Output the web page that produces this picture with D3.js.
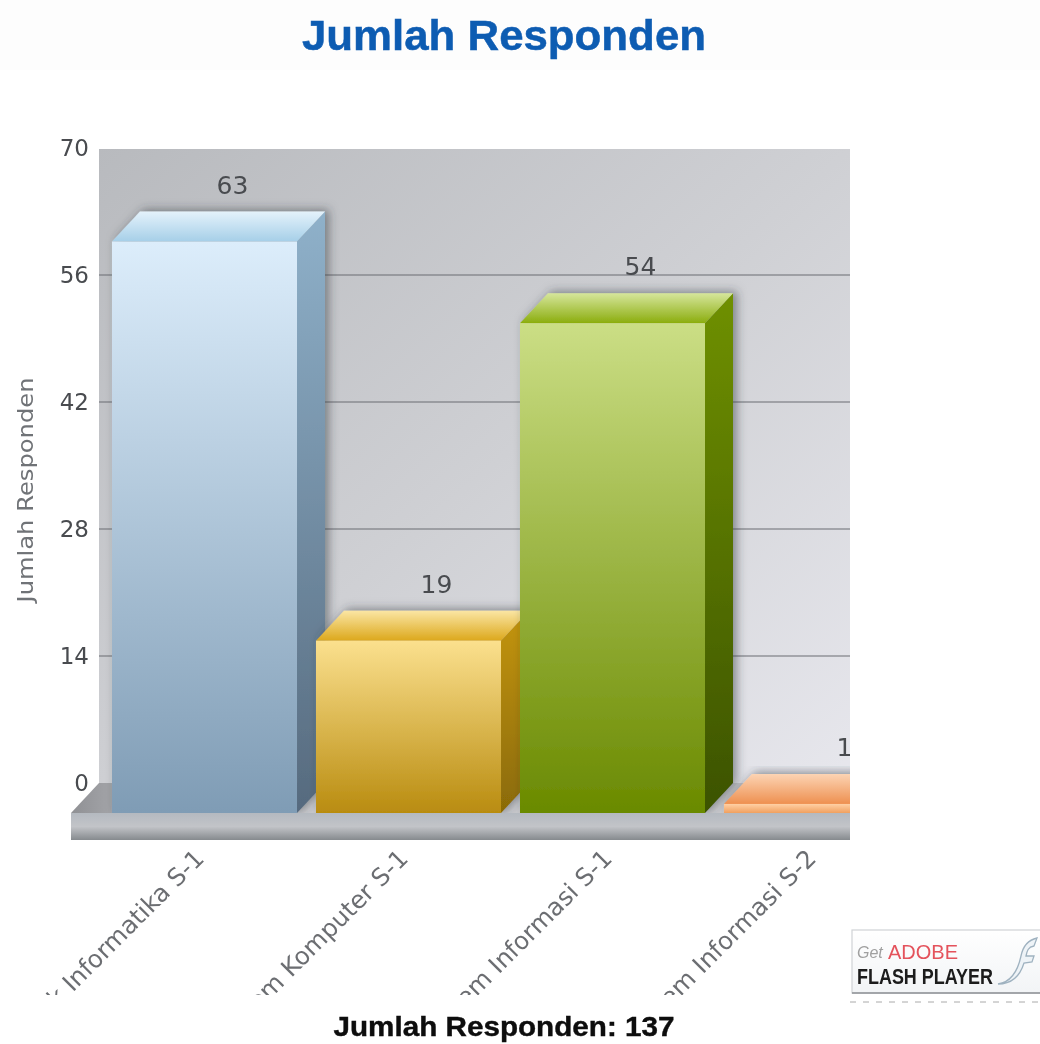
<!DOCTYPE html>
<html>
<head>
<meta charset="utf-8">
<script src="https://cdn.jsdelivr.net/npm/d3@7"></script>
<style>
  html, body { margin: 0; padding: 0; background: #fff; }
  svg { display: block; }
</style>
</head>
<body>
<div id="chart"></div>
<script>
const categories = ["Teknik Informatika S-1", "Sistem Komputer S-1", "Sistem Informasi S-1", "Sistem Informasi S-2"];
const responden = [63, 19, 54, 1];
const yTicks = [0, 14, 28, 42, 56, 70];
const chartTitle = "Jumlah Responden";
const footerText = "Jumlah Responden: 137";

const frontColors = [["#dcedfb", "#7f9cb5"], ["#fbe08e", "#b98c10"], ["#cbde85", "#6a8a00"], ["#ffd0a4", "#f0a060"]];
const sideColors = [["#8fb1ca", "#566a7e"], ["#c49510", "#8a6a06"], ["#6f9000", "#3c5300"], ["#f0a070", "#d88040"]];
const topColors = [["#a6cfe8", "#e4f2fb"], ["#dca81c", "#fbe6a4"], ["#8bad0e", "#d6e69c"], ["#ee9050", "#fcd4b4"]];

const width = 1040;
const height = 1044;
const wall = {left: 99, right: 850, top: 149};
const depthX = 28;   // shift of the back wall against the front plane
const depthY = 30;
const frontBase = 813;
const floorBottom = 840;

const svg = d3.select("#chart").append("svg")
  .attr("width", width)
  .attr("height", height)
  .attr("viewBox", [0, 0, width, height]);

const defs = svg.append("defs");

function linearGradient(id, stops, x2 = 0, y2 = 1) {
  const g = defs.append("linearGradient").attr("id", id)
    .attr("x1", 0).attr("y1", 0).attr("x2", x2).attr("y2", y2);
  stops.forEach((c, i) => g.append("stop")
    .attr("offset", i / (stops.length - 1))
    .attr("stop-color", c));
}

linearGradient("wallFill", ["#b8babe", "#cfd0d4", "#e8e8ee"], 1, 1);
linearGradient("floorFront", ["#b4b9c0", "#c2c4c8", "#868a8e"]);
linearGradient("floorTop", ["#8f9094", "#c8c9cd"], 0.15, 0);
linearGradient("badgeFill", ["#ffffff", "#f2f4f6"]);
categories.forEach((c, i) => {
  linearGradient(`front${i}`, frontColors[i]);
  linearGradient(`side${i}`, sideColors[i]);
  linearGradient(`top${i}`, topColors[i], 0, 0);
  defs.select(`#top${i}`).attr("y1", 1).attr("y2", 0);
});

defs.append("clipPath").attr("id", "plotClip").append("rect")
  .attr("x", 60).attr("y", wall.top).attr("width", wall.right - 60).attr("height", frontBase - wall.top);
defs.append("clipPath").attr("id", "labelClip").append("rect")
  .attr("x", 40).attr("y", 845).attr("width", 800).attr("height", 150);

defs.append("filter").attr("id", "barShadow")
  .attr("x", "-20%").attr("y", "-20%").attr("width", "140%").attr("height", "140%")
  .append("feDropShadow")
  .attr("dx", 4).attr("dy", -2).attr("stdDeviation", 5)
  .attr("flood-color", "#30343a").attr("flood-opacity", 0.5);

defs.append("filter").attr("id", "soften")
  .attr("filterUnits", "userSpaceOnUse")
  .attr("x", 0).attr("y", 0).attr("width", width).attr("height", height)
  .append("feGaussianBlur").attr("stdDeviation", 0.75);

const root = svg.append("g").attr("filter", "url(#soften)");

root.append("rect").attr("width", width).attr("height", height).attr("fill", "#fff");
root.append("rect").attr("width", width).attr("height", 70).attr("fill", "#fdfdfd");

// scales: y is on the front plane, the wall is the same thing moved back
const y = d3.scaleLinear().domain([0, 70]).range([frontBase, frontBase - 635]);
const x = d3.scaleBand().domain(categories).range([102.5, 918.5]).paddingInner(0.093).paddingOuter(0.0465);
const wallY = (v) => y(v) - depthY;

root.append("rect")
  .attr("x", wall.left).attr("y", wall.top)
  .attr("width", wall.right - wall.left).attr("height", frontBase - wall.top)
  .attr("fill", "url(#wallFill)");

root.append("g")
  .selectAll("line")
  .data(yTicks.filter((d) => d > 0 && d < 70))
  .join("line")
  .attr("x1", wall.left).attr("x2", wall.right)
  .attr("y1", wallY).attr("y2", wallY)
  .attr("stroke", "#6a6d72")
  .attr("stroke-width", 1.1);

// floor
root.append("path")
  .attr("d", `M${wall.left - depthX},${frontBase}L${wall.left},${frontBase - depthY}H${wall.right}V${frontBase}Z`)
  .attr("fill", "url(#floorTop)");
root.append("rect")
  .attr("x", wall.left - depthX).attr("y", frontBase)
  .attr("width", wall.right - wall.left + depthX).attr("height", floorBottom - frontBase)
  .attr("fill", "url(#floorFront)");

const rows = categories.map((name, i) => ({name, value: responden[i], i}));

const bars = root.append("g").attr("clip-path", "url(#plotClip)")
  .selectAll("g")
  .data(rows)
  .join("g")
  .attr("filter", "url(#barShadow)");

bars.append("path")
  .attr("fill", (d) => `url(#side${d.i})`)
  .attr("d", (d) => {
    const r = x(d.name) + x.bandwidth();
    return `M${r},${y(0)}V${y(d.value)}l${depthX},${-depthY}V${y(0) - depthY}Z`;
  });
bars.append("path")
  .attr("fill", (d) => `url(#top${d.i})`)
  .attr("d", (d) => `M${x(d.name)},${y(d.value)}l${depthX},${-depthY}h${x.bandwidth()}l${-depthX},${depthY}Z`);
bars.append("rect")
  .attr("fill", (d) => `url(#front${d.i})`)
  .attr("x", (d) => x(d.name))
  .attr("y", (d) => y(d.value))
  .attr("width", x.bandwidth())
  .attr("height", (d) => y(0) - y(d.value));

// value labels
defs.append("clipPath").attr("id", "valueClip").append("rect")
  .attr("x", 0).attr("y", 0).attr("width", wall.right).attr("height", height);
root.append("g").attr("clip-path", "url(#valueClip)")
  .selectAll("text")
  .data(rows)
  .join("text")
  .attr("x", (d) => x(d.name) + x.bandwidth() / 2 + depthX)
  .attr("y", (d) => y(d.value) - depthY - 27)
  .attr("dy", "0.36em")
  .attr("text-anchor", "middle")
  .attr("font-family", "DejaVu Sans")
  .attr("font-size", 25)
  .attr("fill", "#484b4f")
  .text((d) => d.value);

// y axis sits on the wall plane
const axisY = d3.scaleLinear().domain(y.domain()).range(y.range().map((v) => v - depthY));
root.append("g")
  .attr("transform", `translate(${wall.left},0)`)
  .call(d3.axisLeft(axisY).tickValues(yTicks).tickSize(0).tickPadding(10))
  .call((a) => a.select(".domain").remove())
  .call((a) => a.selectAll("text")
    .attr("font-family", "DejaVu Sans")
    .attr("font-size", 23)
    .attr("fill", "#484b4f"));

root.append("text")
  .attr("transform", "translate(25,490) rotate(-90)")
  .attr("text-anchor", "middle")
  .attr("dy", "0.36em")
  .attr("font-family", "DejaVu Sans")
  .attr("font-size", 22)
  .attr("textLength", 225)
  .attr("lengthAdjust", "spacingAndGlyphs")
  .attr("fill", "#707377")
  .text(chartTitle);

// category labels, cut off at the bottom like the original
root.append("g").attr("clip-path", "url(#labelClip)")
  .selectAll("text")
  .data(rows)
  .join("text")
  .attr("transform", (d) => `translate(${x(d.name) + x.bandwidth() / 2 + 1},860) rotate(-45)`)
  .attr("text-anchor", "end")
  .attr("font-family", "DejaVu Sans")
  .attr("font-size", 24.5)
  .attr("fill", "#6c6e72")
  .text((d) => d.name);

root.append("text")
  .attr("x", 504).attr("y", 50)
  .attr("text-anchor", "middle")
  .attr("font-family", "Liberation Sans")
  .attr("font-weight", "bold")
  .attr("font-size", 43)
  .attr("textLength", 404)
  .attr("lengthAdjust", "spacingAndGlyphs")
  .attr("fill", "#0f5cb2")
  .attr("stroke", "#0f5cb2")
  .attr("stroke-width", 0.5)
  .text(chartTitle);

root.append("text")
  .attr("x", 504).attr("y", 1036)
  .attr("text-anchor", "middle")
  .attr("font-family", "Liberation Sans")
  .attr("font-weight", "bold")
  .attr("font-size", 28)
  .attr("textLength", 341)
  .attr("lengthAdjust", "spacingAndGlyphs")
  .attr("fill", "#0a0a0a")
  .attr("stroke", "#0a0a0a")
  .attr("stroke-width", 0.4)
  .text(footerText);

// flash badge
const badge = root.append("g");
badge.append("rect")
  .attr("x", 852).attr("y", 930).attr("width", 190).attr("height", 63)
  .attr("fill", "url(#badgeFill)").attr("stroke", "#d0d3d6").attr("stroke-width", 1.2);
badge.append("line")
  .attr("x1", 852).attr("x2", 1040).attr("y1", 993).attr("y2", 993)
  .attr("stroke", "#8e9296").attr("stroke-width", 1.5);
badge.append("text").attr("x", 857).attr("y", 958)
  .attr("font-family", "Liberation Sans").attr("font-style", "italic").attr("font-size", 16).attr("fill", "#a0a0a0")
  .text("Get");
badge.append("text").attr("x", 888).attr("y", 959)
  .attr("font-family", "Liberation Sans").attr("font-size", 21).attr("fill", "#e4525c")
  .attr("textLength", 70).attr("lengthAdjust", "spacingAndGlyphs")
  .text("ADOBE");
badge.append("text").attr("x", 857).attr("y", 984)
  .attr("font-family", "Liberation Sans").attr("font-weight", "bold").attr("font-size", 22).attr("fill", "#1a1a1a")
  .attr("textLength", 136).attr("lengthAdjust", "spacingAndGlyphs")
  .text("FLASH PLAYER");
badge.append("path")
  .attr("d", "M998,984C1012,982 1018,970 1021,956C1023,946 1028,940 1037,938L1034,946C1028,947 1027,951 1026,956L1034,956L1032,962L1024,963C1020,976 1012,984 998,984Z")
  .attr("fill", "#eef3f7").attr("stroke", "#9fb2c0").attr("stroke-width", 1.3);
badge.append("line")
  .attr("x1", 850).attr("x2", 1040).attr("y1", 1002).attr("y2", 1002)
  .attr("stroke", "#aaa").attr("stroke-dasharray", "6 7").attr("stroke-width", 1);
</script>
</body>
</html>
